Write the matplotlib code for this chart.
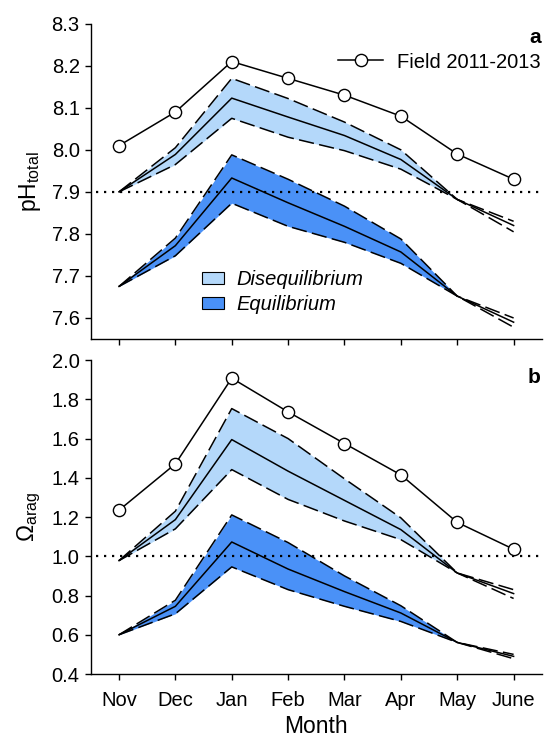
import numpy as np
import matplotlib
matplotlib.use("Agg")
import matplotlib.pyplot as plt
from matplotlib.lines import Line2D
from matplotlib.patches import Patch

plt.rcParams['font.family'] = ['Liberation Sans', 'DejaVu Sans']
plt.rcParams['mathtext.fontset'] = 'custom'
plt.rcParams['mathtext.rm'] = 'Liberation Sans'
plt.rcParams['mathtext.it'] = 'Liberation Sans:italic'

months = ["Nov", "Dec", "Jan", "Feb", "Mar", "Apr", "May", "June"]

# --- panel a: pH total ---
ph_field = [8.01, 8.09, 8.21, 8.17, 8.13, 8.08, 7.99, 7.93]
ph_dis_mean = [7.90, 7.989, 8.123, 8.078, 8.034, 7.977, 7.882, 7.82]
ph_dis_hi = [7.90, 8.005, 8.170, 8.122, 8.066, 8.000, 7.882, 7.83]
ph_dis_lo = [7.90, 7.965, 8.075, 8.030, 7.998, 7.954, 7.882, 7.805]
ph_eq_mean = [7.675, 7.772, 7.933, 7.874, 7.818, 7.757, 7.652, 7.59]
ph_eq_hi = [7.675, 7.790, 7.988, 7.930, 7.866, 7.788, 7.652, 7.60]
ph_eq_lo = [7.675, 7.748, 7.873, 7.818, 7.780, 7.730, 7.652, 7.578]

# --- panel b: omega aragonite ---
om_field = [1.235, 1.471, 1.908, 1.736, 1.575, 1.415, 1.173, 1.036]
om_dis_mean = [0.978, 1.187, 1.595, 1.434, 1.285, 1.136, 0.915, 0.81]
om_dis_hi = [0.978, 1.230, 1.753, 1.600, 1.395, 1.196, 0.915, 0.83]
om_dis_lo = [0.978, 1.140, 1.442, 1.290, 1.180, 1.085, 0.915, 0.785]
om_eq_mean = [0.600, 0.745, 1.073, 0.935, 0.820, 0.711, 0.561, 0.49]
om_eq_hi = [0.600, 0.776, 1.211, 1.070, 0.900, 0.748, 0.561, 0.50]
om_eq_lo = [0.600, 0.707, 0.946, 0.830, 0.745, 0.668, 0.561, 0.478]

c_dis = "#b4d8fa"
c_eq = "#4a91f7"
x = np.arange(len(months))
dash = (0, (10, 3.5))
fs = 14.5
lw = 1.1


def draw_band(ax, mean, hi, lo, color):
    # shaded band only runs Nov..May, lines go on to June
    ax.fill_between(x[:7], lo[:7], hi[:7], color=color, lw=0, zorder=1)
    ax.plot(x, hi, color="black", lw=lw, ls=dash, zorder=2)
    ax.plot(x, lo, color="black", lw=lw, ls=dash, zorder=2)
    ax.plot(x, mean, color="black", lw=lw, zorder=3)


def style(ax):
    for s in ["top", "right"]:
        ax.spines[s].set_visible(False)
    ax.spines["left"].set_linewidth(1.0)
    ax.spines["bottom"].set_linewidth(1.0)
    ax.tick_params(direction="out", length=4, width=1.0, labelsize=fs, pad=4)
    ax.set_xlim(-0.5, 7.5)
    ax.set_xticks(x)


fig = plt.figure(figsize=(5.47, 7.41), dpi=100)
ax1 = fig.add_axes([0.166, 0.5425, 0.8245, 0.4255])
ax2 = fig.add_axes([0.166, 0.0904, 0.8245, 0.4236])

# panel a
draw_band(ax1, ph_dis_mean, ph_dis_hi, ph_dis_lo, c_dis)
draw_band(ax1, ph_eq_mean, ph_eq_hi, ph_eq_lo, c_eq)
ax1.hlines(7.9, -0.4, 7.5, color="black", lw=1.6, ls=(0, (1, 2.6)), zorder=4)
ax1.plot(x, ph_field, color="black", lw=lw, marker="o", ms=8.8,
         mfc="white", mec="black", mew=1.0, zorder=5)
style(ax1)
ax1.set_ylim(7.55, 8.3)
ax1.set_yticks([7.6, 7.7, 7.8, 7.9, 8.0, 8.1, 8.2, 8.3])
ax1.set_yticklabels(["7.6", "7.7", "7.8", "7.9", "8.0", "8.1", "8.2", "8.3"])
ax1.set_xticklabels([])
ax1.set_ylabel(r"pH$_{\mathrm{total}}$", fontsize=16.5, labelpad=6)
ax1.text(0.998, 0.985, "a", transform=ax1.transAxes, fontsize=15,
         fontweight="bold", ha="right", va="top")

field_handle = Line2D([], [], color="black", lw=lw, marker="o", ms=8.8,
                      mfc="white", mec="black", mew=1.0)
leg1 = fig.legend([field_handle], ["Field 2011-2013"], loc="center left",
                  bbox_to_anchor=(0.618, 0.9163), frameon=False, fontsize=fs,
                  handlelength=2.23, handletextpad=0.7, borderpad=0,
                  borderaxespad=0)
patches = [Patch(facecolor=c_dis, edgecolor="black", lw=0.8),
           Patch(facecolor=c_eq, edgecolor="black", lw=0.8)]
leg2 = fig.legend(patches, ["Disequilibrium", "Equilibrium"],
                  loc="center left", bbox_to_anchor=(0.369, 0.606),
                  frameon=False, prop={"size": fs, "style": "italic"},
                  handlelength=1.1, handleheight=0.55, handletextpad=0.6,
                  labelspacing=0.28, borderpad=0, borderaxespad=0)

# panel b
draw_band(ax2, om_dis_mean, om_dis_hi, om_dis_lo, c_dis)
draw_band(ax2, om_eq_mean, om_eq_hi, om_eq_lo, c_eq)
ax2.hlines(1.0, -0.4, 7.5, color="black", lw=1.6, ls=(0, (1, 2.6)), zorder=4)
ax2.plot(x, om_field, color="black", lw=lw, marker="o", ms=8.8,
         mfc="white", mec="black", mew=1.0, zorder=5)
style(ax2)
ax2.set_ylim(0.4, 2.0)
ax2.set_yticks([0.4, 0.6, 0.8, 1.0, 1.2, 1.4, 1.6, 1.8, 2.0])
ax2.set_yticklabels(["0.4", "0.6", "0.8", "1.0", "1.2", "1.4", "1.6", "1.8", "2.0"])
ax2.set_xticklabels(months)
ax2.tick_params(axis="x", pad=8)
ax2.set_xlabel("Month", fontsize=16.5, labelpad=4)
ax2.set_ylabel(r"$\mathrm{\Omega_{arag}}$", fontsize=16.5, labelpad=6)
ax2.text(0.998, 0.975, "b", transform=ax2.transAxes, fontsize=15,
         fontweight="bold", ha="right", va="top")

fig.savefig("out.png", dpi=100)
